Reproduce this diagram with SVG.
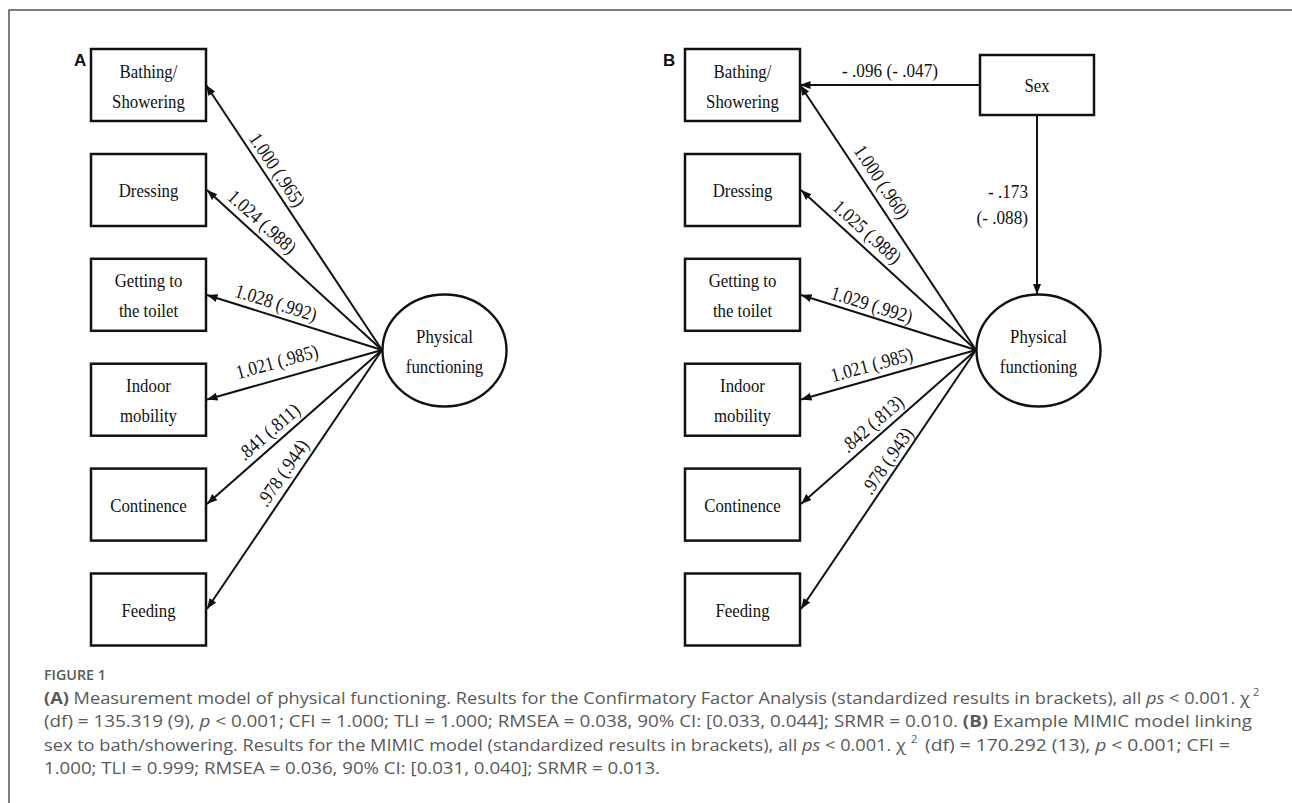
<svg xmlns="http://www.w3.org/2000/svg" width="1292" height="803" viewBox="0 0 1292 803">
<style>
.box{fill:#fff;stroke:#111;stroke-width:2.5}
.ell{fill:#fff;stroke:#111;stroke-width:2.4}
.nt{font-family:"Liberation Serif","Times New Roman",serif;font-size:16.8px;fill:#111;text-anchor:middle}
.el{font-family:"Liberation Serif","Times New Roman",serif;font-size:17.2px;fill:#111;text-anchor:middle}
.conn line{stroke:#111;stroke-width:2;marker-end:url(#ah)}
.panel{font-family:"Liberation Sans",Arial,sans-serif;font-size:17px;font-weight:bold;fill:#111}
.cap{font-family:"Open Sans","Liberation Sans",sans-serif;font-size:16px;fill:#595959}
</style>
<defs>
<marker id="ah" markerUnits="userSpaceOnUse" markerWidth="12" markerHeight="9" refX="10.5" refY="4" orient="auto">
<path d="M0,0 L10.5,4 L0,8 Z" fill="#111"/>
</marker>
</defs>
<rect width="1292" height="803" fill="#fff"/>
<path d="M9,803 V10 H1292" fill="none" stroke="#555" stroke-width="1.5"/>

<text class="panel" x="74" y="66">A</text>
<text class="panel" x="663" y="66">B</text>

<!-- Panel A connectors -->
<g id="connectors-A" class="conn">
<line x1="382" y1="350" x2="206" y2="85"/>
<line x1="382" y1="350" x2="207" y2="190"/>
<line x1="382" y1="350" x2="207" y2="295"/>
<line x1="382" y1="350" x2="207" y2="399.5"/>
<line x1="382" y1="350" x2="207" y2="504"/>
<line x1="382" y1="350" x2="207" y2="609"/>
</g>
<g id="labels-A">
<text class="el" transform="translate(277,170) rotate(56.2) scale(1,1.15)" y="5.5">1.000 (.965)</text>
<text class="el" transform="translate(262,222) rotate(42) scale(1,1.15)" y="5.5">1.024 (.988)</text>
<text class="el" transform="translate(276,303) rotate(17.4) scale(1,1.15)" y="5.5">1.028 (.992)</text>
<text class="el" transform="translate(277,362) rotate(-15.3) scale(1,1.15)" y="5.5">1.021 (.985)</text>
<text class="el" transform="translate(269,432) rotate(-41) scale(1,1.15)" y="5.5">.841 (.811)</text>
<text class="el" transform="translate(283,473) rotate(-55.6) scale(1,1.15)" y="5.5">.978 (.944)</text>
</g>

<!-- Panel A nodes -->
<g id="A-bathing"><rect class="box" x="91" y="49" width="115" height="72"/>
<text class="nt" transform="translate(148.5,77.5) scale(1,1.15)">Bathing/</text>
<text class="nt" transform="translate(148.5,107.5) scale(1,1.15)">Showering</text></g>
<g id="A-dressing"><rect class="box" x="91" y="154" width="115" height="72"/>
<text class="nt" transform="translate(148.5,197) scale(1,1.15)">Dressing</text></g>
<g id="A-toilet"><rect class="box" x="91" y="258.8" width="115" height="72"/>
<text class="nt" transform="translate(148.5,287.3) scale(1,1.15)">Getting to</text>
<text class="nt" transform="translate(148.5,317.3) scale(1,1.15)">the toilet</text></g>
<g id="A-indoor"><rect class="box" x="91" y="363.7" width="115" height="72"/>
<text class="nt" transform="translate(148.5,392.2) scale(1,1.15)">Indoor</text>
<text class="nt" transform="translate(148.5,422) scale(1,1.15)">mobility</text></g>
<g id="A-continence"><rect class="box" x="91" y="468.6" width="115" height="72"/>
<text class="nt" transform="translate(148.5,511.6) scale(1,1.15)">Continence</text></g>
<g id="A-feeding"><rect class="box" x="91" y="573.5" width="115" height="72"/>
<text class="nt" transform="translate(148.5,616.5) scale(1,1.15)">Feeding</text></g>
<g id="A-physical"><ellipse class="ell" cx="444.5" cy="350.5" rx="62" ry="56"/>
<text class="nt" transform="translate(444.5,343) scale(1,1.15)">Physical</text>
<text class="nt" transform="translate(444.5,373) scale(1,1.15)">functioning</text></g>

<!-- Panel B connectors -->
<g id="connectors-B" class="conn">
<line x1="976" y1="350" x2="800" y2="85"/>
<line x1="976" y1="350" x2="801" y2="190"/>
<line x1="976" y1="350" x2="801" y2="295"/>
<line x1="976" y1="350" x2="801" y2="399.5"/>
<line x1="976" y1="350" x2="801" y2="504"/>
<line x1="976" y1="350" x2="801" y2="609"/>
<line x1="980" y1="85" x2="800" y2="85"/>
<line x1="1037" y1="115" x2="1037" y2="294.5"/>
</g>
<g id="labels-B">
<text class="el" transform="translate(881.7,182) rotate(56.2) scale(1,1.15)" y="5.5">1.000 (.960)</text>
<text class="el" transform="translate(867,232) rotate(42) scale(1,1.15)" y="5.5">1.025 (.988)</text>
<text class="el" transform="translate(871.7,305) rotate(17.4) scale(1,1.15)" y="5.5">1.029 (.992)</text>
<text class="el" transform="translate(871.7,365) rotate(-15.3) scale(1,1.15)" y="5.5">1.021 (.985)</text>
<text class="el" transform="translate(872.5,424) rotate(-41) scale(1,1.15)" y="5.5">.842 (.813)</text>
<text class="el" transform="translate(887.5,461) rotate(-55.6) scale(1,1.15)" y="5.5">.978 (.943)</text>
<text class="el" transform="translate(890,77) scale(1,1.15)">- .096 (- .047)</text>
<text class="el" style="text-anchor:end" transform="translate(1028,197.7) scale(1,1.15)">- .173</text>
<text class="el" style="text-anchor:end" transform="translate(1028,224) scale(1,1.15)">(- .088)</text>
</g>

<!-- Panel B nodes -->
<g id="B-bathing"><rect class="box" x="685" y="49" width="115" height="72"/>
<text class="nt" transform="translate(742.5,77.5) scale(1,1.15)">Bathing/</text>
<text class="nt" transform="translate(742.5,107.5) scale(1,1.15)">Showering</text></g>
<g id="B-dressing"><rect class="box" x="685" y="154" width="115" height="72"/>
<text class="nt" transform="translate(742.5,197) scale(1,1.15)">Dressing</text></g>
<g id="B-toilet"><rect class="box" x="685" y="258.8" width="115" height="72"/>
<text class="nt" transform="translate(742.5,287.3) scale(1,1.15)">Getting to</text>
<text class="nt" transform="translate(742.5,317.3) scale(1,1.15)">the toilet</text></g>
<g id="B-indoor"><rect class="box" x="685" y="363.7" width="115" height="72"/>
<text class="nt" transform="translate(742.5,392.2) scale(1,1.15)">Indoor</text>
<text class="nt" transform="translate(742.5,422) scale(1,1.15)">mobility</text></g>
<g id="B-continence"><rect class="box" x="685" y="468.6" width="115" height="72"/>
<text class="nt" transform="translate(742.5,511.6) scale(1,1.15)">Continence</text></g>
<g id="B-feeding"><rect class="box" x="685" y="573.5" width="115" height="72"/>
<text class="nt" transform="translate(742.5,616.5) scale(1,1.15)">Feeding</text></g>
<g id="B-sex"><rect class="box" x="980" y="55" width="114" height="60"/>
<text class="nt" transform="translate(1037,91.5) scale(1,1.15)">Sex</text></g>
<g id="B-physical"><ellipse class="ell" cx="1038.5" cy="350.5" rx="62" ry="56"/>
<text class="nt" transform="translate(1038.5,343) scale(1,1.15)">Physical</text>
<text class="nt" transform="translate(1038.5,373) scale(1,1.15)">functioning</text></g>

<!-- Caption -->
<g id="caption">
<text class="cap" x="44" y="680" style="font-size:13.5px;font-weight:600" textLength="62" lengthAdjust="spacingAndGlyphs">FIGURE 1</text>
<text class="cap" x="44" y="704" textLength="1206" lengthAdjust="spacingAndGlyphs"><tspan font-weight="bold">(A)</tspan> Measurement model of physical functioning. Results for the Confirmatory Factor Analysis (standardized results in brackets), all <tspan font-style="italic">ps</tspan> &lt; 0.001. χ</text>
<text class="cap" x="1253" y="696" style="font-size:11px">2</text>
<text class="cap" x="44" y="727.3" textLength="1208" lengthAdjust="spacingAndGlyphs">(df) = 135.319 (9), <tspan font-style="italic">p</tspan> &lt; 0.001; CFI = 1.000; TLI = 1.000; RMSEA = 0.038, 90% CI: [0.033, 0.044]; SRMR = 0.010. <tspan font-weight="bold">(B)</tspan> Example MIMIC model linking</text>
<text class="cap" x="44" y="750.5" textLength="862" lengthAdjust="spacingAndGlyphs">sex to bath/showering. Results for the MIMIC model (standardized results in brackets), all <tspan font-style="italic">ps</tspan> &lt; 0.001. χ</text>
<text class="cap" x="911" y="742.5" style="font-size:11px">2</text>
<text class="cap" x="925" y="750.5" textLength="305" lengthAdjust="spacingAndGlyphs">(df) = 170.292 (13), <tspan font-style="italic">p</tspan> &lt; 0.001; CFI =</text>
<text class="cap" x="44" y="773.5" textLength="616" lengthAdjust="spacingAndGlyphs">1.000; TLI = 0.999; RMSEA = 0.036, 90% CI: [0.031, 0.040]; SRMR = 0.013.</text>
</g>
</svg>
